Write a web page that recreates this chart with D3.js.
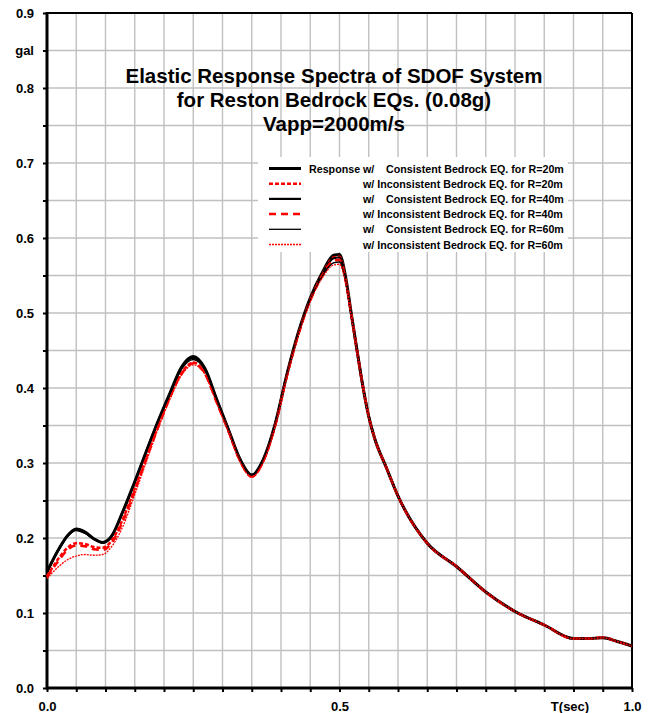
<!DOCTYPE html>
<html>
<head>
<meta charset="utf-8">
<script src="https://cdn.jsdelivr.net/npm/d3@7"></script>
<style>
  body { margin: 0; background: #fff; }
  svg { display: block; font-family: "Liberation Sans", Arial, sans-serif; }
</style>
</head>
<body>
<div id="chart"></div>
<script>
// Period (sec)
const periods = [0, 0.02, 0.035, 0.05, 0.065, 0.08, 0.095, 0.11, 0.13, 0.15, 0.17, 0.19, 0.21, 0.23, 0.25, 0.27, 0.29, 0.31, 0.33, 0.35, 0.37, 0.39, 0.41, 0.43, 0.45, 0.47, 0.49, 0.5, 0.51, 0.52, 0.53, 0.54, 0.55, 0.56, 0.58, 0.6, 0.65, 0.7, 0.75, 0.8, 0.85, 0.9, 0.925, 0.95, 0.975, 1.0];

// Spectral acceleration (gal) per series
const consistentR20 = [0.155, 0.185, 0.203, 0.212, 0.208, 0.199, 0.194, 0.202, 0.236, 0.275, 0.316, 0.356, 0.393, 0.428, 0.442, 0.426, 0.385, 0.345, 0.305, 0.284, 0.305, 0.352, 0.418, 0.475, 0.520, 0.553, 0.577, 0.578, 0.550, 0.500, 0.450, 0.402, 0.362, 0.333, 0.294, 0.256, 0.193, 0.162, 0.128, 0.102, 0.084, 0.066, 0.066, 0.067, 0.062, 0.056];
const inconsistentR20 = [0.149, 0.173, 0.187, 0.193, 0.192, 0.188, 0.187, 0.196, 0.226, 0.266, 0.308, 0.350, 0.388, 0.420, 0.434, 0.420, 0.382, 0.343, 0.303, 0.282, 0.303, 0.350, 0.416, 0.473, 0.518, 0.551, 0.574, 0.575, 0.548, 0.499, 0.450, 0.402, 0.362, 0.333, 0.294, 0.256, 0.193, 0.162, 0.128, 0.102, 0.084, 0.066, 0.066, 0.067, 0.062, 0.056];
const consistentR40 = [0.155, 0.185, 0.203, 0.211, 0.207, 0.199, 0.194, 0.202, 0.236, 0.275, 0.316, 0.356, 0.392, 0.427, 0.440, 0.425, 0.385, 0.345, 0.305, 0.284, 0.305, 0.352, 0.418, 0.474, 0.519, 0.551, 0.573, 0.574, 0.547, 0.499, 0.450, 0.402, 0.362, 0.333, 0.294, 0.256, 0.193, 0.162, 0.128, 0.102, 0.084, 0.066, 0.066, 0.067, 0.062, 0.056];
const inconsistentR40 = [0.148, 0.170, 0.184, 0.190, 0.189, 0.185, 0.184, 0.193, 0.223, 0.263, 0.306, 0.348, 0.387, 0.419, 0.433, 0.419, 0.381, 0.343, 0.303, 0.282, 0.303, 0.350, 0.416, 0.472, 0.517, 0.549, 0.570, 0.571, 0.545, 0.498, 0.449, 0.402, 0.362, 0.333, 0.294, 0.256, 0.193, 0.162, 0.128, 0.102, 0.084, 0.066, 0.066, 0.067, 0.062, 0.056];
const consistentR60 = [0.154, 0.184, 0.202, 0.210, 0.206, 0.198, 0.194, 0.202, 0.235, 0.274, 0.315, 0.355, 0.391, 0.425, 0.438, 0.424, 0.384, 0.344, 0.304, 0.284, 0.305, 0.351, 0.417, 0.473, 0.517, 0.548, 0.567, 0.568, 0.544, 0.497, 0.449, 0.401, 0.361, 0.333, 0.294, 0.256, 0.193, 0.162, 0.128, 0.102, 0.084, 0.066, 0.066, 0.067, 0.062, 0.056];
const inconsistentR60 = [0.146, 0.162, 0.171, 0.176, 0.178, 0.177, 0.178, 0.188, 0.216, 0.258, 0.302, 0.346, 0.385, 0.417, 0.431, 0.418, 0.380, 0.342, 0.302, 0.281, 0.302, 0.349, 0.415, 0.471, 0.515, 0.546, 0.564, 0.565, 0.542, 0.496, 0.448, 0.401, 0.361, 0.333, 0.294, 0.256, 0.193, 0.162, 0.128, 0.102, 0.084, 0.066, 0.066, 0.067, 0.062, 0.056];

const legendLabels = [
    ["Response", "w/", "Consistent Bedrock EQ. for R=20m"],
    ["", "w/ Inconsistent Bedrock EQ. for R=20m", ""],
    ["", "w/", "Consistent Bedrock EQ. for R=40m"],
    ["", "w/ Inconsistent Bedrock EQ. for R=40m", ""],
    ["", "w/", "Consistent Bedrock EQ. for R=60m"],
    ["", "w/ Inconsistent Bedrock EQ. for R=60m", ""]
];

const titleLines = ["Elastic Response Spectra of SDOF System", "for Reston Bedrock EQs. (0.08g)", "Vapp=2000m/s"];

const yTicks = d3.range(0, 0.9001, 0.05).map(d => +d.toFixed(2));
const xTicks = d3.range(0, 1.0001, 0.05).map(d => +d.toFixed(2));

const series = [
    { values: consistentR20, color: "#000", width: 3, dash: null },
    { values: inconsistentR20, color: "#ff0000", width: 2.5, dash: "4,2" },
    { values: consistentR40, color: "#000", width: 2.2, dash: null },
    { values: inconsistentR40, color: "#ff0000", width: 2.5, dash: "7,5" },
    { values: consistentR60, color: "#000", width: 1.3, dash: null },
    { values: inconsistentR60, color: "#ff0000", width: 1.3, dash: "2,1" }
];

const margin = { top: 13, right: 29, bottom: 25, left: 47 };
const width = 661 - margin.left - margin.right;
const height = 713 - margin.top - margin.bottom;

const svg = d3.select("#chart")
    .append("svg")
    .attr("width", 661)
    .attr("height", 713)
    .append("g")
    .attr("transform", `translate(${margin.left},${margin.top})`);

const x = d3.scaleLinear().domain([0, 1]).range([0, width]);
const y = d3.scaleLinear().domain([0, 0.9]).range([height, 0]);

// Grid
svg.append("g").selectAll("line")
    .data(xTicks.slice(1, -1))
    .join("line")
    .attr("x1", d => x(d)).attr("x2", d => x(d))
    .attr("y1", 0).attr("y2", height)
    .attr("stroke", "#c0c0c0").attr("stroke-width", 1.4);

svg.append("g").selectAll("line")
    .data(yTicks.slice(1, -1))
    .join("line")
    .attr("y1", d => y(d)).attr("y2", d => y(d))
    .attr("x1", 0).attr("x2", width)
    .attr("stroke", "#c0c0c0").attr("stroke-width", 1.4);

// Axes
const yAxis = svg.append("g")
    .call(d3.axisLeft(y).tickValues(yTicks).tickSize(4).tickPadding(9).tickSizeOuter(0)
        .tickFormat(d => Math.abs(d - 0.85) < 1e-6 ? "gal" : (Math.round(d * 100) % 10 === 0 ? d.toFixed(1) : "")));
yAxis.select(".domain").remove();
yAxis.selectAll(".tick line").attr("stroke", "#000").attr("stroke-width", 2);
yAxis.selectAll("text").attr("font-size", "13px").attr("font-weight", "bold").attr("fill", "#000");

const xAxis = svg.append("g")
    .attr("transform", `translate(0,${height})`)
    .call(d3.axisBottom(x).tickValues(xTicks).tickSize(4).tickPadding(10).tickSizeOuter(0)
        .tickFormat(d => {
            if (d === 0 || d === 0.5 || d === 1) return d.toFixed(1);
            if (Math.abs(d - 0.9) < 1e-6) return "T(sec)";
            return "";
        }));
xAxis.select(".domain").remove();
xAxis.selectAll(".tick line").attr("stroke", "#000").attr("stroke-width", 2);
xAxis.selectAll("text").attr("font-size", "13px").attr("font-weight", "bold").attr("fill", "#000");
xAxis.selectAll(".tick text").filter(d => Math.abs(d - 0.9) < 1e-6).attr("dx", "-4");

// Frame
svg.append("line").attr("x1", width).attr("x2", width).attr("y1", 0).attr("y2", height)
    .attr("stroke", "#000").attr("stroke-width", 2);
svg.append("line").attr("x1", 0).attr("x2", width).attr("y1", 0).attr("y2", 0)
    .attr("stroke", "#000").attr("stroke-width", 2);
svg.append("line").attr("x1", 0).attr("x2", 0).attr("y1", -1).attr("y2", height + 1.5)
    .attr("stroke", "#000").attr("stroke-width", 3);
svg.append("line").attr("x1", 0).attr("x2", width).attr("y1", height).attr("y2", height)
    .attr("stroke", "#000").attr("stroke-width", 3);

// Title
svg.append("g").selectAll("text")
    .data(titleLines)
    .join("text")
    .attr("x", 287)
    .attr("y", (d, i) => 70 + i * 24)
    .attr("text-anchor", "middle")
    .attr("font-size", "20.5px")
    .attr("font-weight", "bold")
    .attr("fill", "#000")
    .text(d => d);

// Curves
const line = d3.line()
    .x(d => x(d[0]))
    .y(d => y(d[1]))
    .curve(d3.curveMonotoneX);

series.forEach(s => {
    svg.append("path")
        .datum(periods.map((t, i) => [t, s.values[i]]))
        .attr("fill", "none")
        .attr("stroke", s.color)
        .attr("stroke-width", s.width)
        .attr("stroke-dasharray", s.dash)
        .attr("stroke-linejoin", "round")
        .attr("d", line);
});

// Legend
const legend = svg.append("g").attr("transform", "translate(211,144)");
legend.append("rect")
    .attr("x", 0).attr("y", 0)
    .attr("width", 310).attr("height", 95)
    .attr("fill", "#fff");

const rows = legend.selectAll(".row")
    .data(series)
    .join("g")
    .attr("class", "row")
    .attr("transform", (d, i) => `translate(0,${11.5 + i * 15.2})`);

rows.append("line")
    .attr("x1", 11).attr("x2", 43)
    .attr("stroke", d => d.color)
    .attr("stroke-width", d => d.width)
    .attr("stroke-dasharray", d => d.dash);

rows.each(function(d, i) {
    const g = d3.select(this);
    const [a, b, c] = legendLabels[i];
    const txt = (xx, s) => g.append("text")
        .attr("x", xx).attr("y", 4)
        .attr("font-size", "10.7px").attr("font-weight", "bold")
        .attr("fill", "#000").text(s);
    if (a) txt(51, a);
    if (b) txt(105, b);
    if (c) txt(128, c);
});
</script>
</body>
</html>
